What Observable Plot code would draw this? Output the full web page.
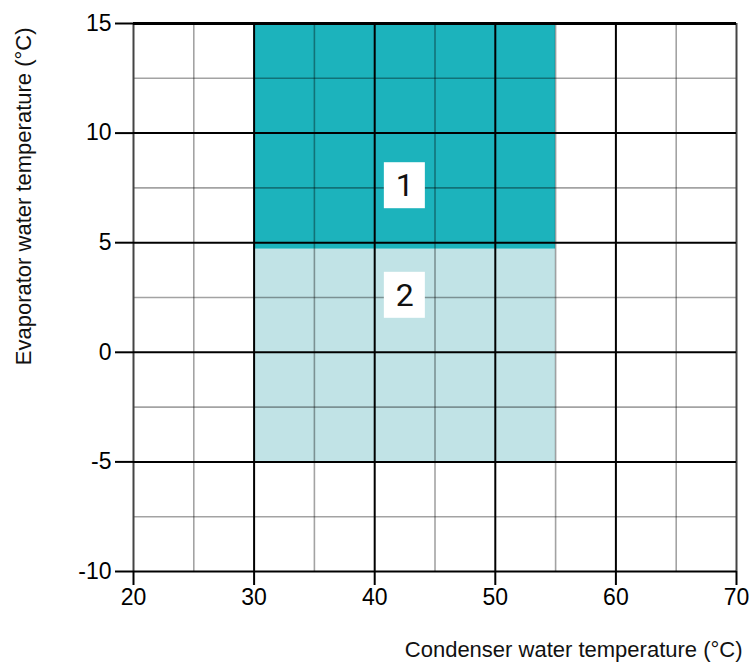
<!DOCTYPE html>
<html>
<head>
<meta charset="utf-8">
<script src="https://cdn.jsdelivr.net/npm/d3@7"></script>
<script src="https://cdn.jsdelivr.net/npm/@observablehq/plot@0.6"></script>
<style>
  html, body { margin: 0; padding: 0; background: #fff; }
  #chart svg { display: block; }
</style>
</head>
<body>
<div id="chart"></div>
<script>
// Data
const xMajor = [20, 30, 40, 50, 60, 70];
const xMinor = [25, 35, 45, 55, 65];
const yMajor = [-10, -5, 0, 5, 10, 15];
const yMinor = [-7.5, -2.5, 2.5, 7.5, 12.5];
const regionIds = ["1", "2"];
const regionX1 = [30, 30];
const regionX2 = [55, 55];
const regionY1 = [4.7, -5];
const regionY2 = [15, 4.7];
const regionLabelX = [42.5, 42.5];
const regionLabelY = [7.6, 2.6];
const xLabel = "Condenser water temperature (°C)";
const yLabel = "Evaporator water temperature (°C)";

const regions = regionIds.map((id, i) => ({
  id, x1: regionX1[i], x2: regionX2[i], y1: regionY1[i], y2: regionY2[i],
  lx: regionLabelX[i], ly: regionLabelY[i]
}));
const regionColors = {"1": "#1cb3bc", "2": "#c1e3e6"};

const font = "'Liberation Sans', Arial, sans-serif";

const chart = Plot.plot({
  width: 749,
  height: 666,
  marginLeft: 133,
  marginRight: 13,
  marginTop: 23,
  marginBottom: 95,
  style: {fontFamily: font, background: "#fff", color: "#000"},
  x: {domain: [20, 70]},
  y: {domain: [-10, 15]},
  marks: [
    Plot.rect(regions, {x1: "x1", x2: "x2", y1: "y1", y2: "y2", fill: d => regionColors[d.id]}),
    Plot.ruleX(xMinor, {stroke: "#000", strokeOpacity: 0.36, strokeWidth: 1.6}),
    Plot.ruleY(yMinor, {stroke: "#000", strokeOpacity: 0.36, strokeWidth: 1.6}),
    Plot.ruleX(xMajor.filter(v => v !== 20 && v !== 70), {stroke: "#000", strokeWidth: 2}),
    Plot.ruleX([20, 70], {stroke: "#444", strokeWidth: 2}),
    Plot.ruleY(yMajor.filter(v => v !== 15), {stroke: "#000", strokeWidth: 2}),
    Plot.ruleY([15], {stroke: "#000", strokeWidth: 3}),
    Plot.axisX({ticks: xMajor, tickSize: 14, tickPadding: 3, tickFormat: d => String(d), label: null, fontSize: 23, stroke: "#000", strokeWidth: 2}),
    Plot.axisY({ticks: yMajor, tickSize: 18, tickPadding: 4, tickFormat: d => String(d), label: null, fontSize: 23, stroke: "#000", strokeWidth: 2}),
    Plot.rect(regions, {
      x1: "lx", x2: "lx", y1: "ly", y2: "ly",
      insetLeft: -20.5, insetRight: -20.5, insetTop: -23, insetBottom: -23,
      fill: "#fff"
    }),
    Plot.text(regions, {x: "lx", y: "ly", text: "id", fontSize: 32, fontWeight: 400, fontFamily: "Roboto, sans-serif", fill: "#111", lineAnchor: "middle"}),
    Plot.text([yLabel], {text: d => d, frameAnchor: "top-left", rotate: -90, textAnchor: "end", lineAnchor: "middle", dx: -110, dy: 4, fontSize: 22, fill: "#111"}),
    Plot.text([xLabel], {text: d => d, frameAnchor: "bottom-right", textAnchor: "end", lineAnchor: "middle", dx: 6, dy: 78, fontSize: 22, fill: "#111"})
  ]
});
document.getElementById("chart").appendChild(chart);
</script>
</body>
</html>
